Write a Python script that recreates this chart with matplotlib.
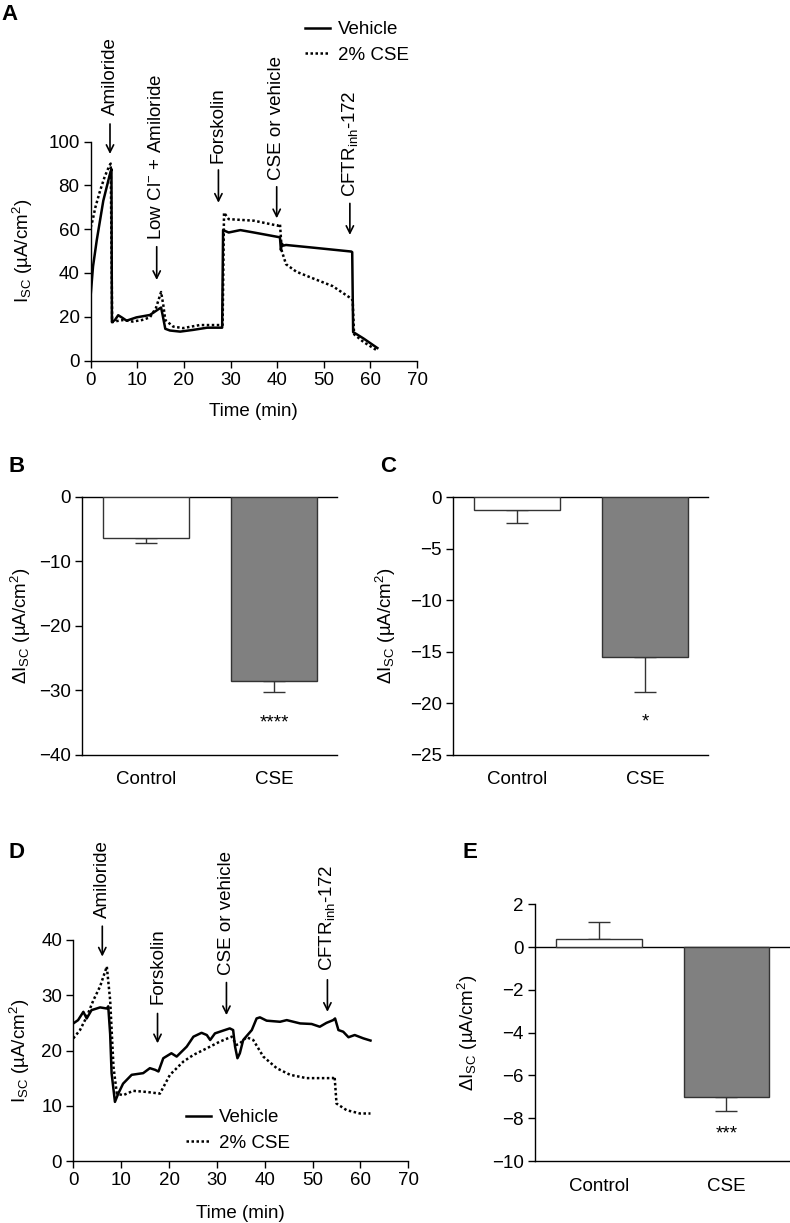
import matplotlib
matplotlib.use("Agg")
import matplotlib.pyplot as plt
from matplotlib.lines import Line2D

plt.rcParams["font.family"] = ["Liberation Sans", "DejaVu Sans"]
plt.rcParams["mathtext.fontset"] = "custom"
plt.rcParams["mathtext.rm"] = "Liberation Sans"
plt.rcParams["mathtext.it"] = "Liberation Sans:italic"
plt.rcParams["mathtext.bf"] = "Liberation Sans:bold"

FS = 13.5

# ---- panel A traces (time in min, Isc in uA/cm2)
a_veh_t = [0, 0.5, 1.3, 2.7, 4.1, 4.45, 4.55, 5.2, 5.9, 6.8, 7.7, 9.8, 12.7, 14.5, 15.1,
           15.5, 16.0, 17.0, 19.2, 22.0, 25.0, 28.2, 28.4, 29.6, 32.1, 35.0, 37.8, 40.6,
           40.8, 41.0, 41.3, 41.9, 47.6, 55.9, 56.1, 56.3, 58.5, 61.5]
a_veh_i = [30, 43, 55, 73, 85, 87.5, 17.6, 18.5, 20.7, 19.5, 18.2, 19.7, 20.8, 23.4, 24.2,
           20.0, 14.5, 13.7, 13.2, 14.0, 15.0, 15.0, 59.6, 58.5, 59.6, 58.5, 57.4, 56.3,
           50.5, 53.5, 52.5, 52.8, 51.6, 49.8, 49.5, 13.0, 10.1, 5.7]
a_cse_t = [0, 0.4, 1, 2, 3, 4, 4.3, 4.6, 5.5, 7, 9, 11, 12.7, 14.0, 15.1, 15.6, 16.0,
           17.7, 19.8, 23.4, 28.3, 28.6, 29.6, 35.0, 40.2, 40.6, 41.0, 41.9, 44.1, 47.6,
           51.9, 55.9, 56.2, 56.5, 58.5, 61.5]
a_cse_i = [60.8, 64, 70, 77.5, 84, 89, 90, 17.5, 18.0, 18.5, 17.8, 18.5, 19.7, 24, 31.3,
           25, 18.5, 15.5, 14.8, 16.2, 16.2, 67.6, 64.6, 63.9, 61.6, 62.5, 50, 44, 40.6,
           37.6, 34, 28.3, 27.5, 12, 8.5, 4.5]
a_marks = ["Amiloride", r"Low Cl$^{-}$ + Amiloride", "Forskolin", "CSE or vehicle",
           r"CFTR$_{\rm inh}$-172"]
a_mark_t = [4.14, 14.16, 27.4, 39.9, 55.6]
a_mark_tip = [94.4, 36.8, 72.1, 65.0, 57.4]
a_mark_tail = [108.1, 52.0, 87.1, 79.4, 71.8]
a_mark_txt = [112.2, 55.1, 90.1, 82.5, 74.9]

# ---- panel D traces
d_veh_t = [0, 1, 2.1, 2.8, 3.8, 5.6, 7.0, 7.3, 7.7, 8.0, 8.7, 9.4, 10.4, 12.2, 14.6, 16.0,
           17.1, 17.8, 18.8, 20.5, 21.6, 23.7, 25.1, 26.8, 27.9, 28.6, 29.6, 31.3, 32.7,
           33.4, 33.8, 34.3, 34.8, 35.5, 37.3, 38.3, 39.0, 40.4, 43.2, 44.6, 47.4, 49.8,
           51.5, 52.9, 54.3, 54.7, 55.4, 56.4, 57.5, 58.8, 60.6, 62.1]
d_veh_i = [24.9, 25.5, 27.0, 25.8, 27.3, 27.8, 27.6, 28.0, 23.0, 15.9, 10.7, 12.2, 14.0,
           15.6, 15.9, 16.8, 16.5, 16.2, 18.6, 19.5, 18.9, 20.7, 22.5, 23.2, 22.8, 21.9,
           23.1, 23.6, 24.0, 23.7, 20.7, 18.6, 19.5, 21.9, 23.7, 25.8, 26.0, 25.4, 25.2,
           25.5, 24.9, 24.8, 24.3, 25.0, 25.5, 25.8, 23.7, 23.4, 22.4, 22.8, 22.2, 21.8]
d_cse_t = [0, 1.4, 2.8, 4.2, 5.6, 7.0, 7.7, 8.4, 9.1, 10.4, 12.5, 15.3, 18.1, 20.2, 23.0,
           25.1, 27.9, 30.6, 33.1, 34.1, 34.8, 36.2, 37.6, 39.7, 42.5, 45.3, 48.7, 54.3,
           54.6, 55.0, 57.1, 59.9, 62.1]
d_cse_i = [22.2, 23.7, 26.1, 29.1, 31.6, 35.2, 29.1, 17.0, 12.2, 11.9, 12.7, 12.5, 12.2,
           15.6, 18.0, 19.2, 20.4, 21.6, 22.5, 21.0, 21.3, 22.4, 21.9, 18.9, 16.8, 15.6,
           15.0, 15.0, 15.3, 10.4, 9.2, 8.6, 8.6]
d_marks = ["Amiloride", "Forskolin", "CSE or vehicle", r"CFTR$_{\rm inh}$-172"]
d_mark_t = [6.06, 17.6, 32.0, 53.1]
d_mark_tip = [37.0, 21.3, 26.4, 27.0]
d_mark_tail = [42.5, 26.7, 32.3, 32.8]
d_mark_txt = [43.9, 28.4, 33.7, 34.3]

# ---- bar panels
groups = ["Control", "CSE"]
b_mean = [-6.3, -28.6]
b_sem = [0.8, 1.7]
c_mean = [-1.2, -15.5]
c_sem = [1.3, 3.4]
e_mean = [0.37, -7.0]
e_sem = [0.8, 0.65]
stars = {"B": "****", "C": "*", "E": "***"}

ISC = "I$_{\\rm SC}$ (\u00b5A/cm$^2$)"
DISC = "\u0394I$_{\\rm SC}$ (\u00b5A/cm$^2$)"

W, H = 790, 1223
fig = plt.figure(figsize=(W / 100, H / 100), dpi=100)


def add_ax(l, t, r, b):
    return fig.add_axes([l / W, 1 - b / H, (r - l) / W, (b - t) / H])


def style(ax):
    for s in ("top", "right"):
        ax.spines[s].set_visible(False)
    for s in ("left", "bottom"):
        ax.spines[s].set_linewidth(1.0)
    ax.tick_params(direction="out", length=5, width=1.0, labelsize=FS, pad=3)


def ylab_at(ax, text, px_right, l, r):
    ax.set_ylabel(text, fontsize=FS)
    ax.yaxis.set_label_coords((px_right - l) / (r - l), 0.5)


def trace_panel(ax, vt, vi, ct, ci, marks, mt, tip, tail, txt):
    ax.plot(vt, vi, color="black", lw=1.8, label="Vehicle")
    ax.plot(ct, ci, color="black", lw=1.8, ls=(0, (1, 1)), label="2% CSE")
    ax.set_xlim(0, 70)
    ax.set_xticks(range(0, 71, 10))
    ax.set_xlabel("Time (min)", fontsize=FS)
    for lab, x, y0, y1, yt in zip(marks, mt, tip, tail, txt):
        ax.annotate("", xy=(x, y0), xytext=(x, y1), annotation_clip=False,
                    arrowprops=dict(arrowstyle="->", lw=1.2, color="black",
                                    shrinkA=0, shrinkB=0, mutation_scale=13))
        ax.text(x, yt, lab, rotation=90, ha="center", va="bottom", fontsize=FS,
                clip_on=False)


def legend_at(ax, px, py):
    handles = [Line2D([], [], color="black", lw=1.8),
               Line2D([], [], color="black", lw=1.8, ls=(0, (1, 1)))]
    ax.legend(handles, ["Vehicle", "2% CSE"], loc="upper left",
              bbox_to_anchor=(px / W, 1 - py / H), bbox_transform=fig.transFigure,
              frameon=False, borderpad=0, borderaxespad=0, handlelength=1.35,
              handletextpad=0.4, labelspacing=0.45, fontsize=FS)


def bar_panel(ax, means, sems, star, star_y):
    x = [0, 1]
    ax.axhline(0, color="black", lw=1.0, zorder=1, clip_on=False)
    ax.bar(x, means, width=0.67, color=["white", "#808080"], edgecolor="#333333",
           linewidth=1.0, zorder=2)
    for xi, m, s in zip(x, means, sems):
        yerr = [[s], [0]] if m < 0 else [[0], [s]]
        ax.errorbar([xi], [m], yerr=yerr, fmt="none", ecolor="#333333",
                    elinewidth=1.0, capsize=8, capthick=1.0, zorder=1)
    ax.text(1, star_y, star, ha="center", va="center", fontsize=FS)
    ax.set_xlim(-0.5, 1.49)
    ax.set_xticks(x)
    ax.set_xticklabels(groups)
    ax.tick_params(axis="x", length=0, pad=12)


# A
axA = add_ax(90.7, 141.7, 417, 360.5)
style(axA)
trace_panel(axA, a_veh_t, a_veh_i, a_cse_t, a_cse_i, a_marks, a_mark_t,
            a_mark_tip, a_mark_tail, a_mark_txt)
axA.set_ylim(0, 100)
axA.set_yticks(range(0, 101, 20))
axA.xaxis.set_label_coords(0.5, -(403 - 360.5) / 218.8)
ylab_at(axA, ISC, 35, 90.7, 417)
legend_at(axA, 305, 21)

# B
axB = add_ax(82, 497, 337, 754.7)
style(axB)
bar_panel(axB, b_mean, b_sem, stars["B"], -35.0)
axB.set_ylim(-40, 0)
axB.set_yticks(range(-40, 1, 10))
ylab_at(axB, DISC, 33, 82, 337)

# C
axC = add_ax(453, 497.3, 708, 754.5)
style(axC)
bar_panel(axC, c_mean, c_sem, stars["C"], -21.8)
axC.set_ylim(-25, 0)
axC.set_yticks(range(-25, 1, 5))
ylab_at(axC, DISC, 398, 453, 708)

# D
axD = add_ax(73.3, 940, 408.3, 1161)
style(axD)
trace_panel(axD, d_veh_t, d_veh_i, d_cse_t, d_cse_i, d_marks, d_mark_t,
            d_mark_tip, d_mark_tail, d_mark_txt)
axD.set_ylim(0, 40)
axD.set_yticks(range(0, 41, 10))
axD.xaxis.set_label_coords(0.5, -(1205 - 1161) / 221)
ylab_at(axD, ISC, 32, 73.3, 408.3)
legend_at(axD, 186, 1109)

# E
axE = add_ax(535, 904.3, 789, 1161)
style(axE)
bar_panel(axE, e_mean, e_sem, stars["E"], -8.75)
axE.set_ylim(-10, 2)
axE.set_yticks(range(-10, 3, 2))
ylab_at(axE, DISC, 480, 535, 789)

for lab, px, py in [("A", 10, 15), ("B", 17, 467), ("C", 388, 467),
                    ("D", 16, 852), ("E", 470, 852)]:
    fig.text(px / W, 1 - py / H, lab, fontsize=16, fontweight="bold",
             ha="center", va="center")

fig.savefig("out.png", dpi=100)
